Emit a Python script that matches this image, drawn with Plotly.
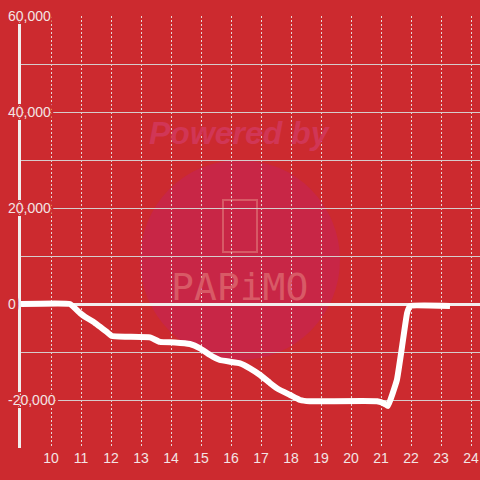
import plotly.graph_objects as go

# hour of day and running balance
hours = [9.0, 10.63, 10.97, 11.13, 11.41, 11.63, 11.86, 12.03, 12.53, 13.3,
         13.63, 14.13, 14.63, 14.97, 15.3, 15.63, 15.97, 16.3, 16.63, 16.97,
         17.3, 17.57, 17.97, 18.3, 18.63, 20.87, 21.13, 21.23, 21.53, 21.7,
         21.87, 21.97, 23.3]
balance = [0, 0, -1900, -2650, -3700, -4730, -5830, -6670, -6810, -6940,
           -7900, -8000, -8330, -9230, -10630, -11670, -12020, -12350, -13400, -14790,
           -16460, -17700, -18960, -20000, -20270, -20270, -20830, -21250, -15830, -8960,
           -1880, -420, -420]

x_ticks = list(range(10, 25))
y_ticks = [-20000, 0, 20000, 40000, 60000]
y_tick_text = ['-20,000', '0', '20,000', '40,000', '60,000']

bg = '#cc2a2f'
label_color = '#f3e4e4'
y_range = [-30000, 60000]

fig = go.Figure()

fig.add_trace(go.Scatter(
    x=hours,
    y=balance,
    mode='lines',
    line=dict(color='white', width=6, shape='spline', smoothing=0.3),
    hoverinfo='skip'
))
# invisible trace so the label axis gets drawn
fig.add_trace(go.Scatter(x=[hours[0]], y=[balance[0]], yaxis='y2', mode='markers',
                         marker=dict(opacity=0), hoverinfo='skip'))

# watermark
fig.add_shape(type='circle', xref='paper', yref='paper',
              x0=0.2593, x1=0.695, y0=0.2037, y1=0.6667,
              fillcolor='#c82646', line=dict(width=0), layer='below')
fig.add_shape(type='rect', xref='paper', yref='paper',
              x0=0.4401, x1=0.5142, y0=0.4537, y1=0.5741,
              line=dict(color='#d75a66', width=2), layer='below')
fig.add_annotation(text='<b><i>Powered by</i></b>', xref='paper', yref='paper',
                   x=0.4771, y=0.729, xanchor='center', yanchor='middle', showarrow=False,
                   font=dict(family='Liberation Sans', size=32, color='#d13656'))
fig.add_annotation(text='PAPiMO', xref='paper', yref='paper',
                   x=0.4771, y=0.372, xanchor='center', yanchor='middle', showarrow=False,
                   font=dict(family='DejaVu Sans Mono', size=38, color='#d85a66'))

shadow = ', '.join(f'{dx}px {dy}px 0 {bg}' for dx, dy in
                   [(3, 0), (-3, 0), (0, 3), (0, -3), (3, 3), (-3, -3), (3, -3), (-3, 3)])

fig.update_layout(
    width=480, height=480,
    margin=dict(l=21, r=0, t=16, b=32),
    paper_bgcolor=bg,
    plot_bgcolor=bg,
    showlegend=False,
    xaxis=dict(
        range=[9.0, 24.3],
        tickvals=x_ticks,
        showgrid=True,
        gridcolor='#e6d6d6',
        gridwidth=1,
        griddash='2px,2px',
        zeroline=False,
        showline=False,
        ticks='',
        automargin=False,
        ticklabeloverflow='allow',
        tickfont=dict(family='Liberation Sans', size=14, color=label_color),
    ),
    yaxis=dict(
        range=y_range,
        tickvals=y_ticks + [-10000, 10000, 30000, 50000],
        showgrid=True,
        gridcolor='#d6cccc',
        gridwidth=1,
        zeroline=True,
        zerolinecolor='#f2eeee',
        zerolinewidth=3,
        showline=True,
        linecolor='#f2eeee',
        linewidth=3,
        ticks='',
        showticklabels=False,
        automargin=False,
    ),
    yaxis2=dict(
        range=y_range,
        overlaying='y',
        anchor='free',
        position=0,
        side='right',
        tickvals=y_ticks,
        ticktext=y_tick_text,
        showgrid=False,
        zeroline=False,
        showline=False,
        ticks='',
        ticklabelstandoff=-14,
        ticklabeloverflow='allow',
        automargin=False,
        tickfont=dict(family='Liberation Sans', size=14, color=label_color, shadow=shadow),
    ),
)

# drop the default page margin so the chart fills the window
fig.write_html('out.html', config={'displayModeBar': False},
               post_script="document.body.style.margin = '0';")
